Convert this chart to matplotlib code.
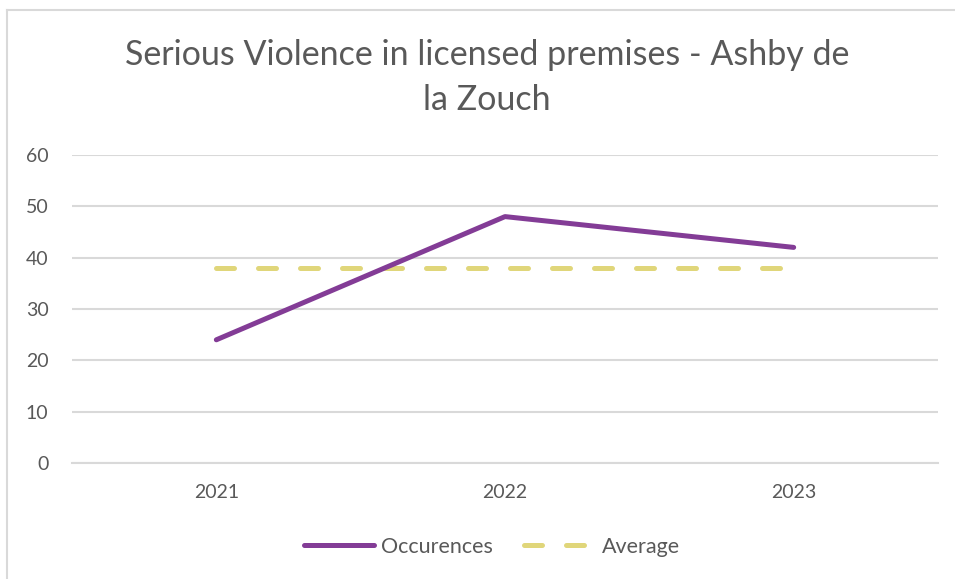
import matplotlib
matplotlib.use("Agg")
import matplotlib.pyplot as plt
from matplotlib.lines import Line2D

years = ["2021", "2022", "2023"]
occurrences = [24, 48, 42]
average = [38, 38, 38]
yticks = [0, 10, 20, 30, 40, 50, 60]

purple = "#833C96"
yellow = "#E0D67A"
textc = "#595959"
gridc = "#D9D9D9"

plt.rcParams['font.family'] = ['Lato', 'DejaVu Sans']

fig = plt.figure(figsize=(9.55, 5.79), dpi=100)
ax = fig.add_axes([72/955, 1-463/579, (938-72)/955, (463-155)/579])

x = list(range(len(years)))
ax.plot(x, occurrences, color=purple, lw=3.6, solid_capstyle='round', solid_joinstyle='round', zorder=3)
ax.plot(x, average, color=yellow, lw=3.6, dashes=(3.6, 4.8), dash_capstyle='round', zorder=2)

ax.set_xlim(-0.5, 2.5)
ax.set_ylim(0, 60)
ax.set_yticks(yticks)
ax.set_xticks(x)
ax.set_xticklabels(years)
ax.yaxis.grid(True, color=gridc, lw=1.5)
ax.set_axisbelow(True)
for s in ax.spines.values():
    s.set_visible(False)
ax.spines['bottom'].set_visible(True)
ax.spines['bottom'].set_color(gridc)
ax.spines['bottom'].set_linewidth(1.5)
ax.tick_params(axis='both', length=0, labelsize=14, labelcolor=textc)
ax.tick_params(axis='y', pad=17)
ax.tick_params(axis='x', pad=15)

fig.text(487/955, 1-55/579, "Serious Violence in licensed premises - Ashby de", ha='center', va='center', fontsize=24.5, color=textc)
fig.text(487/955, 1-100/579, "la Zouch", ha='center', va='center', fontsize=24.5, color=textc)

handles = [Line2D([], [], color=purple, lw=3.6, solid_capstyle='round'),
           Line2D([], [], color=yellow, lw=3.6, dashes=(3.6, 4.8), dash_capstyle='round')]
leg = fig.legend(handles, ["Occurences", "Average"], loc='center', bbox_to_anchor=(492/955, 1-547/579),
                 ncol=2, frameon=False, fontsize=15.5, handlelength=3.25, handletextpad=0.33, columnspacing=1.45)
for t in leg.get_texts():
    t.set_color(textc)

# chart border (cropped at right and bottom)
fig.add_artist(Line2D([7/955, 7/955], [0, 1-10/579], transform=fig.transFigure, color=gridc, lw=1.5))
fig.add_artist(Line2D([7/955, 1], [1-10/579, 1-10/579], transform=fig.transFigure, color=gridc, lw=1.5))

fig.savefig("out.png", dpi=100)
